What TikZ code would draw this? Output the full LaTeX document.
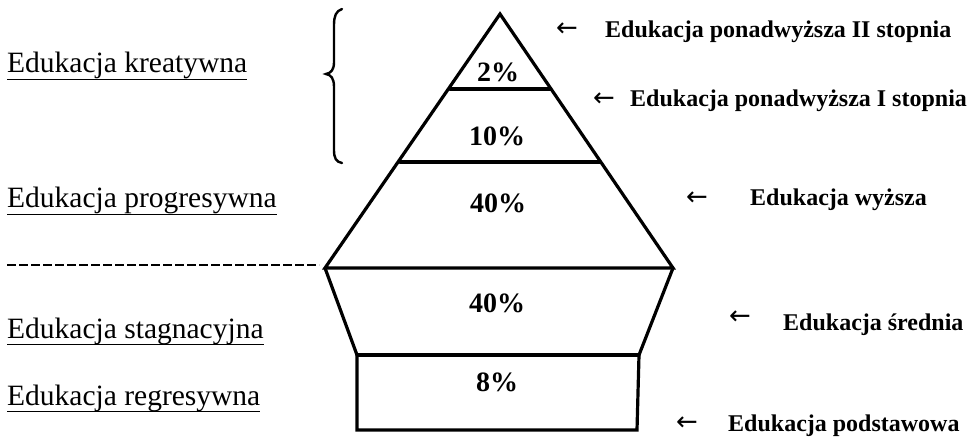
\documentclass[tikz,border=0pt]{standalone}
\usepackage{fontspec}
\setmainfont{Liberation Serif}
\newfontfamily\arrowfont{DejaVu Sans}
\begin{document}
\begin{tikzpicture}[x=1pt,y=-1pt,
  shape line/.style={line width=3.2pt,line join=miter,line cap=round},
  pct/.style={font=\bfseries\fontsize{28}{30}\selectfont,inner sep=0pt},
  rlabel/.style={font=\bfseries\fontsize{24}{26}\selectfont,inner sep=0pt,anchor=base west},
  llabel/.style={font=\fontsize{29.5}{32}\selectfont,inner sep=0pt,anchor=base west},
  arr/.style={font=\arrowfont\fontsize{26}{28}\selectfont,inner sep=0pt},
  uline/.style={line width=1.6pt}]
\useasboundingbox (0,0) rectangle (976,446);
% pyramid corners
\coordinate (A) at (500,14);
\coordinate (L1) at (450,89);  \coordinate (R1) at (550,89);
\coordinate (L2) at (400,162); \coordinate (R2) at (600,162);
\coordinate (L3) at (325,268); \coordinate (R3) at (673,268);
\coordinate (L4) at (357,355); \coordinate (R4) at (639,355);
\coordinate (L5) at (357,430); \coordinate (R5) at (637,430);
\draw[shape line] (A) -- (L3) -- (R3) -- cycle;
\draw[shape line] (L1) -- (R1);
\draw[shape line] (L2) -- (R2);
\draw[shape line] (L3) -- (L4) -- (L5) -- (R5) -- (R4) -- (R3);
\draw[shape line] (L4) -- (R4);
% dashed line
\coordinate (D0) at (7,265);
\coordinate (D1) at (319,265);
\draw[line width=2pt,dash pattern=on 9pt off 3pt] (D0) -- (D1);
% brace
\draw[line width=2.4pt,line cap=round]
  (342,9) .. controls (336,11) and (334,16) .. (334,25) -- (334,62)
  .. controls (334,70) and (331,73) .. (326,74)
  .. controls (331,75) and (334,78) .. (334,87) -- (334,150)
  .. controls (334,158) and (336,162) .. (342,163);
% percentages
\node[pct] (p1) at (498,72) {2\%};
\node[pct] (p2) at (497,136) {10\%};
\node[pct] (p3) at (498,203) {40\%};
\node[pct] (p4) at (497,303) {40\%};
\node[pct] (p5) at (497,382) {8\%};
% right labels
\node[arr] (a1) at (567,30) {←};
\node[rlabel] (r1) at (605,38) {Edukacja ponadwyższa II stopnia};
\node[arr] (a2) at (604,100) {←};
\node[rlabel] (r2) at (630,107) {Edukacja ponadwyższa I stopnia};
\node[arr] (a3) at (697,199) {←};
\node[rlabel] (r3) at (750,206) {Edukacja wyższa};
\node[arr] (a4) at (740,318) {←};
\node[rlabel] (r4) at (783,330) {Edukacja średnia};
\node[arr] (a5) at (687,424) {←};
\node[rlabel] (r5) at (728,431) {Edukacja podstawowa};
% left labels
\node[llabel] (l1) at (7,73) {Edukacja kreatywna};
\node[llabel] (l2) at (7,208) {Edukacja progresywna};
\node[llabel] (l3) at (7,338) {Edukacja stagnacyjna};
\node[llabel] (l4) at (7,405) {Edukacja regresywna};
\foreach \n in {l1,l2,l3,l4}
  \draw[uline] ([yshift=-6.5pt]\n.base west) -- ([yshift=-6.5pt]\n.base east);
\end{tikzpicture}
\end{document}
